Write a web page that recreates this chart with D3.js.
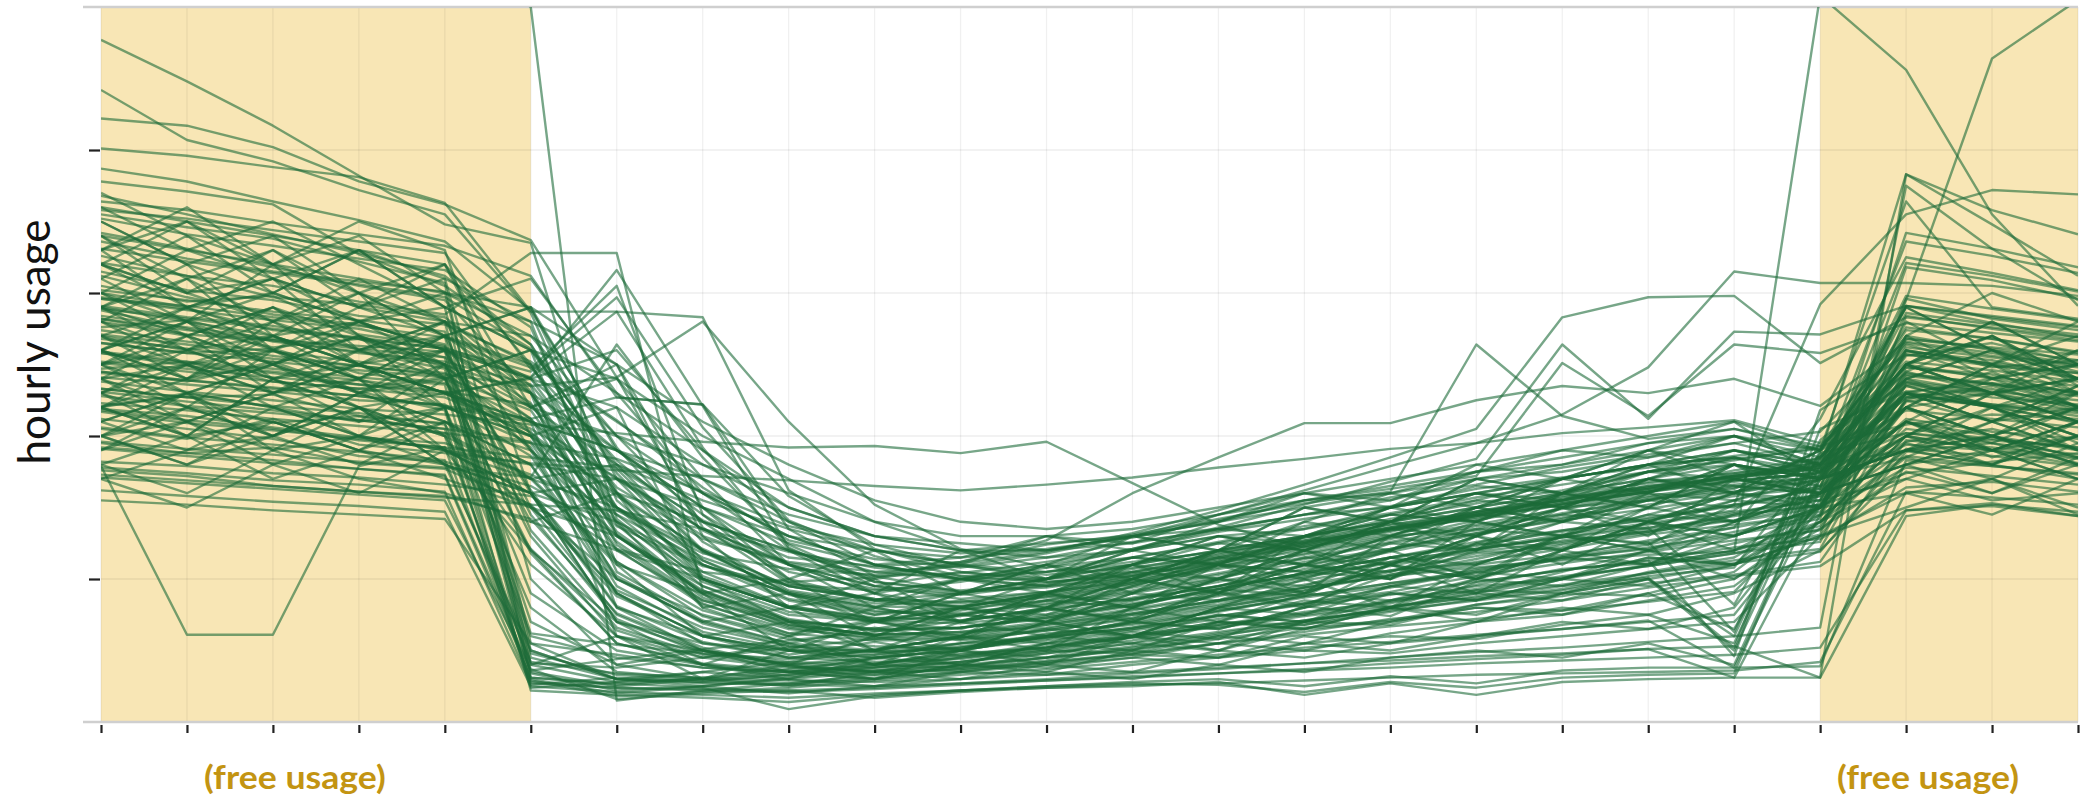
<!DOCTYPE html>
<html>
<head>
<meta charset="utf-8">
<script src="https://cdn.jsdelivr.net/npm/d3@7"></script>
<style>
  html, body { margin: 0; padding: 0; background: #ffffff; }
  svg { display: block; }
</style>
</head>
<body>
<svg id="chart" width="2080" height="801"></svg>
<script>
// Hours of the day (x categories) and y tick values (no labels drawn)
const hours = [0,1,2,3,4,5,6,7,8,9,10,11,12,13,14,15,16,17,18,19,20,21,22,23];
const yTicks = [1, 2, 3, 4];
const freeSpans = [[0, 5], [20, 23]];
const freeLabel = "(free usage)";
const yLabel = "hourly usage";

// Households whose night usage drops sharply right when free hours end
const dropAtDawn = [
  [2.45,2.38,2.52,2.31,2.18,0.26,0.31,0.28,0.33,0.41,0.47,0.52,0.61,0.66,0.74,0.81,0.87,0.95,1.01,0.52,2.05,2.31,2.22,2.14],
  [3.12,2.97,2.85,2.78,2.64,0.34,0.22,0.25,0.31,0.36,0.42,0.48,0.55,0.63,0.71,0.78,0.85,0.92,1.02,1.08,1.85,2.64,2.48,2.53],
  [2.76,2.81,2.66,2.59,2.47,0.41,0.38,0.45,0.52,0.58,0.66,0.74,0.83,0.91,1.02,1.11,1.19,1.26,1.33,1.41,1.52,2.37,2.29,2.41],
  [2.18,2.11,2.05,1.97,1.92,0.29,0.18,0.21,0.24,0.29,0.33,0.37,0.42,0.47,0.52,0.56,0.61,0.65,0.71,0.38,1.62,1.96,2.05,1.91],
  [3.36,3.24,3.15,3.08,3.01,0.55,0.47,0.38,0.35,0.39,0.46,0.55,0.64,0.72,0.83,0.94,1.05,1.16,1.27,1.36,2.12,3.25,3.14,3.02],
  [2.59,2.52,2.47,2.41,2.36,0.22,0.19,0.17,0.14,0.19,0.22,0.25,0.27,0.26,0.21,0.28,0.24,0.31,0.33,0.34,1.74,2.27,2.35,2.18],
  [1.92,1.88,1.83,1.77,1.73,0.36,0.44,0.51,0.57,0.63,0.71,0.79,0.86,0.95,1.03,1.12,1.21,1.29,1.36,0.82,1.88,2.02,1.95,1.87],
  [2.97,2.89,2.74,2.68,2.55,0.48,0.33,0.29,0.33,0.38,0.45,0.53,0.59,0.68,0.77,0.84,0.92,1.01,1.09,1.18,1.31,2.84,2.75,2.67],
  [2.33,2.27,2.29,2.14,2.09,0.24,0.28,0.35,0.42,0.51,0.59,0.68,0.76,0.85,0.94,1.02,1.10,1.17,1.26,0.63,1.97,2.44,2.36,2.28],
  [3.55,3.46,3.38,3.22,3.07,0.31,0.26,0.31,0.37,0.44,0.52,0.61,0.69,0.78,0.88,0.97,1.06,1.14,1.22,1.31,1.42,3.18,3.09,2.96],
  [2.68,2.61,2.54,2.49,2.42,0.62,0.54,0.48,0.44,0.47,0.53,0.59,0.66,0.74,0.82,0.89,0.98,1.06,1.13,0.46,2.18,2.57,2.49,2.44],
  [1.78,1.74,1.69,1.66,1.61,0.27,0.24,0.22,0.21,0.23,0.26,0.29,0.31,0.34,0.37,0.41,0.44,0.47,0.51,0.31,1.45,1.78,1.72,1.66]
];

// Households tapering off over the early morning
const gradualDecline = [
  [3.42,3.31,3.18,3.05,2.95,2.31,1.24,0.83,0.62,0.71,0.58,0.79,0.72,0.93,0.88,1.15,1.02,1.31,1.24,1.52,1.63,2.38,2.21,2.09],
  [2.65,2.58,2.61,2.44,2.37,1.92,0.95,0.63,0.51,0.47,0.55,0.58,0.71,0.84,0.92,1.05,1.18,1.22,1.36,1.41,1.58,2.12,2.03,1.98],
  [2.21,2.28,2.09,2.14,2.02,1.71,1.12,0.74,0.58,0.53,0.51,0.62,0.68,0.77,0.88,0.97,1.04,1.15,1.21,1.33,1.44,1.86,1.79,1.73],
  [3.05,2.94,2.98,2.71,2.63,1.45,0.72,0.48,0.41,0.38,0.42,0.49,0.57,0.68,0.75,0.83,0.96,1.07,1.11,1.25,1.37,2.48,2.43,2.29],
  [2.88,2.75,2.62,2.68,2.48,2.12,1.45,0.98,0.77,0.71,0.69,0.75,0.86,0.95,1.07,1.19,1.31,1.42,1.56,1.61,1.72,2.31,2.37,2.21],
  [1.95,1.88,1.92,1.81,1.77,1.52,0.88,0.61,0.47,0.56,0.46,0.52,0.63,0.58,0.81,0.74,0.98,1.06,1.13,1.22,1.28,1.64,1.68,1.61],
  [3.68,3.55,3.41,3.28,3.12,2.64,1.61,1.02,0.81,0.72,0.74,0.85,0.97,1.08,1.22,1.33,1.47,1.55,1.68,1.74,1.82,2.74,2.68,2.58],
  [2.47,2.52,2.38,2.33,2.41,1.18,0.55,0.41,0.36,0.33,0.38,0.45,0.51,0.58,0.66,0.71,0.82,0.88,0.97,1.03,1.12,1.97,1.92,1.85],
  [2.12,2.05,1.98,1.86,1.82,1.65,1.31,0.92,0.68,0.61,0.63,0.66,0.75,0.82,0.94,1.06,1.11,1.24,1.32,1.45,1.51,1.74,1.82,1.88],
  [3.21,3.12,2.97,2.92,2.83,2.35,1.05,0.71,0.55,0.66,0.57,0.64,0.73,0.91,0.82,1.03,1.14,1.27,1.33,1.46,1.55,2.59,2.53,2.40],
  [2.74,2.66,2.59,2.52,2.44,2.02,1.58,1.21,0.95,0.86,0.84,0.91,0.98,1.12,1.25,1.36,1.44,1.57,1.63,1.72,1.81,2.18,2.12,2.06],
  [1.76,1.72,1.65,1.61,1.58,1.42,0.76,0.52,0.39,0.35,0.36,0.41,0.47,0.55,0.63,0.72,0.77,0.85,0.94,1.02,1.09,1.48,1.51,1.44],
  [2.96,2.91,2.83,2.77,2.69,2.48,1.83,1.34,1.05,0.93,0.89,0.96,1.07,1.18,1.29,1.42,1.53,1.62,1.75,1.83,1.92,2.48,2.41,2.35],
  [2.33,2.27,2.21,2.16,2.08,1.21,0.64,0.45,0.38,0.35,0.37,0.43,0.52,0.61,0.68,0.77,0.86,0.93,1.04,1.11,1.19,1.89,1.95,1.81],
  [3.87,3.78,3.64,3.51,3.36,2.88,1.92,1.26,0.92,0.83,0.81,0.88,0.97,1.09,1.17,1.28,1.41,1.52,1.61,1.73,1.79,2.91,2.79,2.69],
  [2.58,2.49,2.44,2.36,2.31,2.05,1.71,1.35,1.11,1.02,1.04,1.12,1.21,1.33,1.42,1.51,1.63,1.71,1.78,1.86,1.93,2.08,2.15,2.12],
  [3.15,3.02,2.95,2.84,2.78,2.52,2.11,1.64,1.27,1.14,1.08,1.15,1.26,1.34,1.45,1.57,1.66,1.78,1.87,1.95,2.03,2.65,2.56,2.50],
  [2.41,2.36,2.31,2.25,2.22,1.86,1.02,0.69,0.53,0.49,0.52,0.59,0.66,0.78,0.87,0.95,1.07,1.15,1.24,1.36,1.47,2.24,2.30,2.17],
  [2.82,2.71,2.67,2.63,2.59,1.62,0.81,0.56,0.45,0.42,0.44,0.51,0.59,0.67,0.76,0.85,0.93,1.02,1.09,1.18,1.26,2.36,2.27,2.22],
  [3.52,3.41,3.33,3.24,3.16,2.76,1.38,0.89,0.68,0.61,0.62,0.69,0.78,0.88,0.99,1.09,1.21,1.29,1.38,1.47,1.55,2.68,2.61,2.53],
  [2.19,2.14,2.06,1.99,1.95,1.73,1.45,1.13,0.89,0.78,0.75,0.82,0.91,1.01,1.12,1.21,1.32,1.41,1.49,1.58,1.64,1.94,1.90,1.84],
  [3.31,3.22,3.14,3.06,2.97,2.61,1.77,1.19,0.91,0.81,0.79,0.85,0.94,1.04,1.15,1.26,1.37,1.45,1.57,1.64,1.72,2.56,2.65,2.51],
  [2.91,2.83,2.77,2.68,2.61,2.23,1.31,0.87,0.66,0.58,0.59,0.65,0.75,0.85,0.96,1.06,1.16,1.25,1.34,1.44,1.52,2.42,2.36,2.30],
  [3.02,2.95,2.87,2.81,2.73,1.34,0.66,0.47,0.39,0.36,0.39,0.45,0.53,0.62,0.71,0.79,0.88,0.96,1.04,1.13,1.21,2.27,2.33,2.21]
];

// Households with restless, uneven hour-to-hour usage
const restless = [
  [2.9,3.2,2.7,3.0,2.4,2.6,1.1,0.9,0.5,0.7,0.6,0.9,0.8,1.1,0.9,1.3,1.2,1.5,1.3,1.7,1.6,2.2,2.5,2.3],
  [2.3,2.0,2.4,2.1,2.5,1.4,1.6,0.8,0.9,0.6,0.8,0.7,1.0,0.9,1.2,1.0,1.4,1.3,1.6,1.4,1.7,1.9,1.8,2.1],
  [3.3,2.9,3.1,2.6,2.8,2.2,2.5,1.3,0.8,1.0,0.7,0.8,1.1,0.9,1.3,1.4,1.2,1.6,1.5,1.8,1.5,2.7,2.4,2.5],
  [2.6,2.8,2.5,2.2,2.0,0.4,0.6,0.3,0.5,0.4,0.6,0.5,0.8,0.7,0.9,1.1,0.9,1.2,1.1,1.4,1.6,1.8,2.0,1.8],
  [1.9,2.2,2.0,2.3,2.1,1.8,1.0,0.7,0.8,0.5,0.6,0.8,0.7,0.9,1.1,1.0,1.3,1.1,1.4,1.2,1.5,2.3,2.1,2.3],
  [3.0,2.7,2.9,2.5,2.7,2.9,1.9,1.5,1.1,0.9,1.2,1.0,1.3,1.2,1.5,1.4,1.7,1.6,1.9,1.7,1.8,2.5,2.8,2.5],
  [2.2,2.5,2.3,2.6,2.4,0.9,0.5,0.4,0.6,0.4,0.5,0.7,0.6,0.8,1.0,0.8,1.1,1.3,1.2,1.0,1.4,1.7,1.9,1.7],
  [3.5,3.2,3.4,3.0,3.2,2.5,1.5,1.1,0.9,0.7,0.9,0.8,1.0,1.2,1.1,1.4,1.3,1.6,1.5,1.8,1.7,2.6,2.5,2.8],
  [2.5,2.2,2.6,2.4,1.9,1.2,0.7,0.5,0.4,0.6,0.5,0.7,0.6,0.8,0.9,1.1,1.0,1.2,1.4,1.3,1.6,2.1,1.9,2.0],
  [2.0,1.8,2.1,1.9,2.2,2.0,1.5,1.2,0.9,0.8,0.7,0.9,1.0,1.2,1.1,1.3,1.5,1.4,1.7,1.6,1.8,1.9,2.1,1.9],
  [3.1,3.4,3.0,3.3,2.9,0.5,0.3,0.35,0.3,0.45,0.4,0.55,0.5,0.7,0.65,0.8,0.9,0.85,1.0,0.6,1.9,2.4,2.6,2.3],
  [2.7,2.4,2.8,2.5,2.3,2.0,2.2,1.0,0.7,0.6,0.8,0.7,0.9,1.1,1.0,1.2,1.4,1.3,1.5,1.7,1.6,2.2,2.0,2.2],
  [2.4,2.7,2.5,2.8,2.6,1.6,0.8,0.6,0.5,0.5,0.7,0.6,0.8,1.0,0.9,1.1,1.3,1.2,1.5,1.4,1.7,2.3,2.2,1.9],
  [2.1,2.3,1.9,2.2,1.8,1.5,1.3,0.9,1.0,0.7,0.9,1.0,1.2,1.1,1.4,1.6,1.5,1.7,1.9,1.8,1.6,2.0,1.8,1.7],
  [3.4,3.0,3.3,2.9,3.1,1.0,0.4,0.3,0.4,0.3,0.5,0.4,0.6,0.5,0.7,0.8,0.7,0.9,1.0,0.5,1.8,2.5,2.7,2.4],
  [2.8,3.1,2.6,2.9,2.7,2.3,1.4,0.8,0.6,0.8,0.7,0.9,0.8,1.0,1.2,1.1,1.3,1.5,1.4,1.6,1.5,2.3,2.4,2.6],
  [1.7,1.9,2.0,1.8,2.1,1.7,1.1,0.6,0.45,0.5,0.4,0.55,0.6,0.75,0.7,0.9,0.85,1.0,1.15,1.1,1.3,1.6,1.7,1.5],
  [3.2,3.5,3.1,2.8,3.0,2.7,2.0,1.4,1.0,1.2,0.9,1.1,1.3,1.2,1.5,1.4,1.7,1.6,1.8,2.0,1.9,2.9,2.6,2.4],
  [2.6,2.3,2.5,2.7,2.2,0.35,0.25,0.3,0.25,0.35,0.3,0.4,0.45,0.4,0.55,0.5,0.6,0.65,0.7,0.75,1.5,1.9,2.2,2.0],
  [2.0,2.3,2.2,2.0,2.4,2.1,1.7,1.3,1.1,0.8,1.0,0.9,1.1,1.3,1.2,1.4,1.6,1.5,1.7,1.6,1.9,2.2,1.9,2.1],
  [2.9,2.6,2.8,3.1,2.8,1.9,0.9,0.6,0.7,0.5,0.6,0.8,0.7,0.9,0.8,1.1,1.0,1.2,1.4,1.3,1.5,2.2,2.5,2.2],
  [2.3,2.1,2.3,2.0,1.8,1.6,0.7,0.4,0.35,0.3,0.4,0.35,0.5,0.45,0.6,0.55,0.7,0.8,0.75,0.9,1.2,1.8,1.6,1.8],
  [3.6,3.3,3.5,3.2,2.9,3.1,2.3,1.6,1.2,0.9,1.0,1.1,0.9,1.2,1.3,1.5,1.4,1.7,1.8,1.6,1.9,2.7,3.0,2.8],
  [2.5,2.8,2.4,2.6,2.5,1.3,0.6,0.45,0.55,0.4,0.5,0.6,0.55,0.7,0.85,0.8,1.0,0.95,1.1,1.2,1.4,2.0,2.3,2.1],
  [1.8,1.6,1.9,1.7,1.6,1.4,1.2,1.0,0.8,0.9,0.7,0.8,1.0,0.9,1.1,1.2,1.0,1.3,1.2,1.4,1.5,1.6,1.45,1.7],
  [3.0,2.8,3.2,2.7,2.5,0.7,0.4,0.5,0.35,0.45,0.5,0.6,0.7,0.65,0.8,0.95,0.9,1.05,1.2,1.1,1.6,2.5,2.3,2.4],
  [2.7,2.9,2.6,2.4,2.7,2.4,1.6,1.2,0.9,0.8,0.9,1.1,1.0,1.2,1.4,1.3,1.5,1.4,1.6,1.8,1.7,2.1,2.4,2.2],
  [2.2,2.0,2.4,2.2,2.0,1.1,0.6,0.5,0.4,0.45,0.5,0.45,0.6,0.7,0.65,0.8,0.9,1.0,0.95,1.1,1.3,2.1,1.9,1.8],
  [3.3,3.6,3.2,3.4,3.0,2.8,1.3,0.9,0.7,0.6,0.75,0.7,0.85,0.95,1.1,1.0,1.25,1.2,1.4,1.55,1.5,2.4,2.6,2.4],
  [2.4,2.2,2.0,2.3,2.1,1.9,1.4,1.0,0.8,0.7,0.8,0.9,1.1,1.0,1.3,1.2,1.5,1.7,1.6,1.8,1.7,1.9,2.0,2.2],
  [2.8,2.5,2.7,2.4,2.6,0.3,0.2,0.25,0.2,0.25,0.3,0.35,0.3,0.4,0.35,0.45,0.5,0.45,0.55,0.4,1.7,2.0,1.9,2.1],
  [1.9,2.1,1.8,2.0,1.9,1.6,0.9,0.55,0.5,0.45,0.5,0.6,0.65,0.75,0.7,0.85,0.95,1.0,1.1,1.2,1.35,1.75,1.6,1.85],
  [3.1,2.8,3.0,2.8,2.5,2.2,2.4,1.7,1.1,0.9,0.8,1.0,1.1,1.3,1.2,1.4,1.6,1.5,1.7,1.9,1.8,2.5,2.3,2.5],
  [2.6,2.4,2.7,2.5,2.8,2.3,0.8,0.5,0.4,0.35,0.45,0.5,0.6,0.55,0.7,0.8,0.75,0.9,1.0,1.1,1.45,2.2,2.0,2.3],
  [2.1,1.9,2.2,2.4,2.0,1.7,1.8,1.4,1.2,1.0,1.1,1.3,1.2,1.4,1.6,1.5,1.8,1.7,1.9,2.1,1.7,1.9,1.8,2.0],
  [3.7,3.4,3.2,3.5,3.3,1.6,0.7,0.55,0.45,0.5,0.55,0.65,0.6,0.8,0.9,0.85,1.0,1.15,1.1,1.3,1.5,2.6,2.4,2.5],
  [2.3,2.6,2.4,2.2,2.3,2.0,1.2,0.85,0.7,0.65,0.75,0.7,0.9,1.0,0.95,1.15,1.1,1.3,1.45,1.4,1.6,2.1,1.95,2.2],
  [2.9,3.1,2.8,2.6,2.8,0.45,0.3,0.25,0.3,0.25,0.35,0.4,0.35,0.5,0.45,0.55,0.6,0.7,0.65,0.8,1.55,2.3,2.2,2.4],
  [2.0,2.2,2.1,1.9,1.7,1.5,1.0,0.75,0.6,0.7,0.65,0.8,0.9,0.85,1.05,1.0,1.2,1.3,1.25,1.45,1.6,1.8,1.9,1.7],
  [3.2,2.9,3.1,3.3,2.9,2.6,1.8,1.2,0.95,0.85,0.9,1.0,1.15,1.1,1.3,1.45,1.4,1.6,1.75,1.7,1.85,2.5,2.7,2.4],
  [2.5,2.7,2.3,2.5,2.2,0.8,0.35,0.3,0.35,0.3,0.4,0.45,0.5,0.6,0.55,0.7,0.8,0.75,0.9,0.65,1.7,1.85,2.1,1.9],
  [2.7,2.5,2.6,2.8,2.6,2.4,2.6,1.9,1.4,1.1,1.0,1.1,1.2,1.35,1.3,1.5,1.65,1.6,1.8,1.9,1.75,2.3,2.1,2.35],
  [1.8,2.0,1.7,1.9,1.8,0.5,0.3,0.28,0.26,0.3,0.35,0.33,0.4,0.45,0.5,0.48,0.55,0.6,0.65,0.7,1.3,1.5,1.7,1.45],
  [3.4,3.1,3.3,3.0,2.7,2.9,1.7,1.1,0.85,0.75,0.8,0.9,1.0,1.15,1.1,1.3,1.45,1.4,1.55,1.7,1.65,2.8,2.5,2.7],
  [2.2,2.4,2.6,2.3,2.5,1.9,1.3,0.95,0.75,0.7,0.8,0.75,0.95,1.1,1.05,1.25,1.2,1.4,1.55,1.5,1.65,2.0,2.2,1.95],
  [2.9,2.7,2.5,2.7,2.4,1.2,0.55,0.4,0.32,0.38,0.42,0.5,0.48,0.6,0.7,0.68,0.82,0.9,0.88,1.0,1.35,2.25,2.45,2.2],
  [2.4,2.1,2.3,2.5,2.3,2.1,1.9,1.5,1.25,1.1,1.15,1.3,1.25,1.45,1.6,1.55,1.75,1.9,1.85,2.0,1.8,2.2,2.0,1.85],
  [3.0,3.3,3.1,2.9,3.2,2.0,1.0,0.7,0.55,0.5,0.6,0.55,0.7,0.8,0.75,0.95,1.05,1.0,1.2,1.3,1.5,2.45,2.3,2.6],
  [1.7,1.5,1.8,1.6,1.9,1.6,1.4,1.1,0.9,0.75,0.85,0.8,0.95,1.1,1.05,1.2,1.35,1.3,1.45,1.6,1.55,1.7,1.55,1.6],
  [2.6,2.9,2.7,2.5,2.3,2.1,0.6,0.4,0.3,0.35,0.4,0.38,0.45,0.55,0.5,0.62,0.7,0.75,0.85,0.95,1.4,2.0,2.3,2.1],
  [2.1,2.3,2.0,2.2,1.9,1.7,1.5,1.15,0.95,0.85,1.0,0.95,1.1,1.25,1.2,1.4,1.55,1.5,1.7,1.85,1.7,2.1,1.85,2.0],
  [3.5,3.2,3.0,3.3,3.1,2.8,2.5,1.5,1.0,0.85,0.8,0.9,1.05,1.0,1.2,1.35,1.3,1.5,1.6,1.55,1.75,2.9,2.6,2.45],
  [2.3,2.5,2.2,2.0,2.2,0.6,0.45,0.38,0.35,0.4,0.38,0.48,0.55,0.5,0.65,0.7,0.8,0.78,0.9,1.05,1.5,1.95,1.8,2.0],
  [2.8,2.6,2.9,2.7,2.5,2.3,1.5,1.0,0.8,0.7,0.75,0.85,0.8,0.95,1.1,1.05,1.25,1.4,1.35,1.55,1.7,2.35,2.2,2.1],
  [2.0,1.8,2.0,2.2,1.8,1.6,1.7,1.35,1.1,0.95,0.9,1.0,1.15,1.1,1.3,1.45,1.4,1.6,1.7,1.65,1.6,1.8,2.0,1.85],
  [3.2,3.0,2.8,3.0,2.7,0.4,0.28,0.3,0.27,0.33,0.37,0.42,0.47,0.45,0.55,0.6,0.58,0.68,0.75,0.55,1.85,2.45,2.7,2.35],
  [2.5,2.3,2.5,2.3,2.6,2.4,1.9,1.45,1.1,0.95,1.05,1.0,1.2,1.3,1.25,1.5,1.6,1.55,1.75,1.9,1.8,2.35,2.2,2.0],
  [2.2,2.0,2.1,1.9,2.1,1.8,0.9,0.6,0.5,0.45,0.55,0.6,0.7,0.65,0.8,0.9,0.85,1.0,1.15,1.1,1.4,1.85,1.7,1.95],
  [3.3,3.5,3.2,3.0,2.8,2.5,1.6,1.0,0.8,0.72,0.78,0.88,0.85,1.0,1.15,1.1,1.3,1.45,1.4,1.6,1.7,2.5,2.8,2.5],
  [2.6,2.8,2.6,2.4,2.7,1.5,0.75,0.5,0.42,0.4,0.48,0.52,0.6,0.7,0.68,0.8,0.92,0.9,1.05,1.15,1.5,2.25,2.1,2.35]
];

// Households whose usage fades slowly through the morning
const slowFade = [
  [2.8,2.7,2.9,2.6,2.7,2.5,2.1,1.7,1.4,1.2,1.1,1.0,1.1,1.2,1.3,1.4,1.5,1.6,1.7,1.8,1.7,2.3,2.1,2.2],
  [3.2,3.0,3.1,2.9,2.8,2.7,2.3,1.9,1.5,1.3,1.2,1.25,1.3,1.4,1.55,1.6,1.75,1.8,1.95,2.0,1.8,2.5,2.4,2.3],
  [2.4,2.5,2.3,2.4,2.2,2.1,1.9,1.6,1.3,1.1,1.0,0.95,1.0,1.1,1.2,1.3,1.35,1.5,1.55,1.65,1.6,2.1,2.0,1.9],
  [2.6,2.4,2.5,2.3,2.4,2.6,2.4,2.0,1.7,1.4,1.2,1.15,1.2,1.3,1.35,1.5,1.6,1.7,1.8,1.85,1.75,2.2,2.3,2.1],
  [3.4,3.3,3.2,3.1,3.0,2.9,2.5,2.1,1.8,1.55,1.4,1.35,1.4,1.5,1.6,1.7,1.8,1.9,2.0,2.1,1.9,2.6,2.5,2.4],
  [2.0,2.1,1.9,2.0,1.9,1.8,1.7,1.5,1.3,1.2,1.15,1.2,1.3,1.35,1.45,1.5,1.6,1.7,1.8,1.85,1.7,1.9,2.0,1.8],
  [2.9,2.8,2.7,2.8,2.6,2.2,1.8,1.55,1.35,1.2,1.1,1.05,1.1,1.2,1.3,1.4,1.5,1.6,1.75,1.8,1.65,2.4,2.2,2.3],
  [2.5,2.6,2.4,2.5,2.3,2.4,2.2,1.8,1.5,1.3,1.25,1.2,1.25,1.35,1.45,1.55,1.7,1.75,1.85,1.95,1.8,2.3,2.2,2.0],
  [3.0,2.9,3.0,2.8,2.9,2.6,2.0,1.6,1.3,1.1,1.0,1.05,1.15,1.25,1.35,1.45,1.55,1.7,1.8,1.9,1.75,2.5,2.3,2.4],
  [2.2,2.3,2.2,2.1,2.2,2.0,1.6,1.4,1.2,1.05,1.0,1.0,1.05,1.15,1.25,1.35,1.45,1.55,1.65,1.7,1.6,2.0,1.9,2.1],
  [3.6,3.5,3.4,3.3,3.2,2.2,2.0,1.8,1.6,1.4,1.3,1.3,1.35,1.45,1.55,1.65,1.75,1.85,1.95,2.05,1.9,2.7,2.6,2.5],
  [2.7,2.6,2.7,2.5,2.6,2.3,1.9,1.7,1.45,1.3,1.2,1.2,1.3,1.4,1.5,1.6,1.7,1.8,1.9,2.0,1.85,2.4,2.3,2.2]
];

// Households with steady or rising daytime consumption
const steadyDaytime = [
  [2.05,1.98,2.12,1.94,1.88,1.81,1.76,1.72,1.69,1.65,1.62,1.66,1.71,1.78,1.84,1.91,1.95,2.02,2.06,2.11,1.95,2.38,2.31,2.25],
  [3.26,3.12,3.05,2.94,2.85,3.28,3.28,0.92,0.71,0.64,0.66,0.72,0.81,0.93,1.04,1.15,1.23,1.34,1.41,1.52,1.58,2.96,2.82,2.74],
  [2.52,2.47,2.41,2.36,2.29,2.41,2.87,2.83,1.62,1.21,1.05,0.98,1.02,1.12,1.24,1.35,1.42,1.53,1.61,1.72,1.79,2.57,2.51,2.44],
  [2.38,2.31,2.25,2.19,2.15,2.08,2.02,1.96,1.92,1.93,1.88,1.96,1.67,1.38,1.22,1.31,1.44,1.52,1.63,1.71,1.78,2.29,2.22,2.18],
  [1.82,1.79,1.74,1.71,1.66,1.58,1.21,1.05,0.98,1.01,1.12,1.27,1.60,1.85,2.09,2.09,2.25,2.35,2.30,2.40,2.21,2.66,2.58,2.49],
  [2.96,2.88,2.81,2.75,2.62,2.41,3.16,2.21,1.22,0.95,0.86,0.91,1.02,1.14,1.26,1.35,1.46,1.58,1.64,1.76,1.84,2.76,2.68,2.59],
  [2.71,2.64,2.56,2.49,2.43,2.35,2.41,2.80,2.10,1.52,1.21,1.08,1.15,1.26,1.37,1.46,1.57,1.66,1.75,1.84,1.91,2.68,2.62,2.57],
  [2.44,2.39,2.33,2.28,2.21,2.12,2.27,2.22,1.58,1.24,1.09,1.03,1.08,1.16,1.27,1.38,1.45,1.54,1.62,1.69,1.74,2.43,2.37,2.31],
  [2.17,2.09,2.04,1.98,1.92,1.85,1.78,1.41,1.15,1.09,1.12,1.24,1.31,1.42,1.53,1.61,2.64,2.14,1.98,2.05,1.93,2.52,2.46,2.38],
  [2.58,2.51,2.45,2.39,2.31,2.22,1.48,1.18,1.07,1.03,1.11,1.19,1.32,1.48,1.66,1.85,2.05,2.83,2.97,2.98,2.51,2.83,2.76,2.69],
  [2.82,2.74,2.67,2.58,2.52,2.36,1.64,1.28,1.12,1.05,1.09,1.18,1.30,1.45,1.62,1.79,1.95,2.15,2.48,3.15,3.07,3.07,3.05,2.98],
  [2.31,2.24,2.18,2.11,2.05,1.96,1.37,1.09,0.96,0.92,0.98,1.08,1.21,1.36,1.52,1.68,1.84,2.64,2.12,2.73,2.71,2.91,2.83,2.76],
  [2.89,2.82,2.75,2.69,2.61,2.45,2.97,2.06,1.41,1.16,1.02,0.98,1.03,1.11,1.23,1.34,1.43,1.52,1.61,1.68,1.75,2.62,2.55,2.48],
  [1.96,1.91,1.87,1.82,1.78,1.71,2.64,1.85,1.24,0.98,0.91,0.95,1.04,1.15,1.26,1.35,1.44,1.53,1.61,1.69,1.74,2.27,2.21,2.16],
  [2.23,2.18,2.12,2.07,2.02,1.95,1.84,1.61,1.37,1.24,1.18,1.21,1.29,1.41,1.55,1.63,1.72,2.51,2.14,2.64,2.58,2.79,2.72,2.66],
  [1.73,1.69,1.65,1.61,1.57,1.52,1.48,1.35,1.19,1.08,1.02,1.05,1.12,1.19,1.27,1.36,1.47,1.56,1.65,1.72,1.77,2.02,1.97,1.92]
];

// Households with very little daytime usage
const lightUsers = [
  [1.62,1.58,1.54,1.51,1.47,0.25,0.21,0.19,0.17,0.20,0.22,0.24,0.26,0.27,0.29,0.31,0.33,0.34,0.35,0.36,0.42,1.61,1.57,1.52],
  [1.91,1.86,1.81,1.77,1.72,0.31,0.27,0.24,0.09,0.18,0.22,0.25,0.28,0.30,0.25,0.32,0.27,0.36,0.38,0.38,0.39,1.83,1.79,1.74],
  [1.71,1.67,1.63,1.59,1.55,0.37,0.16,0.20,0.22,0.17,0.21,0.24,0.25,0.28,0.19,0.27,0.19,0.28,0.30,0.31,0.31,1.44,1.52,1.47],
  [2.06,1.99,1.94,1.89,1.83,0.42,0.34,0.31,0.29,0.28,0.30,0.33,0.35,0.38,0.41,0.43,0.46,0.48,0.51,0.53,0.31,3.83,3.48,3.12],
  [1.55,1.52,1.48,1.45,1.42,0.55,0.30,0.27,0.26,0.25,0.27,0.29,0.32,0.34,0.36,0.38,0.41,0.43,0.45,0.47,0.52,1.48,1.53,1.44],
  [2.28,2.21,2.16,2.11,2.05,0.28,0.24,0.23,0.22,0.24,0.27,0.30,0.34,0.37,0.41,0.45,0.49,0.52,0.56,0.60,0.66,3.75,3.31,2.95]
];

// The heaviest and most irregular households
const extremeUsers = [
  [5.60,5.55,5.50,5.45,5.40,5.00,0.15,0.22,0.27,0.31,0.35,0.42,0.48,0.55,0.61,0.67,0.72,0.78,0.84,0.91,1.52,2.05,1.98,1.92],
  [2.84,2.76,2.68,2.61,2.55,2.12,1.21,0.82,0.65,0.59,0.61,0.68,0.76,0.85,0.94,1.02,1.08,1.13,1.17,1.19,5.08,4.56,3.55,2.91],
  [2.45,2.39,2.34,2.28,2.21,1.95,1.12,0.78,0.62,0.57,0.58,0.64,0.72,0.81,0.92,1.03,1.12,1.21,1.31,1.38,1.45,2.95,4.64,5.05],
  [1.79,0.61,0.61,1.79,1.92,1.51,0.92,0.66,0.53,0.49,0.51,0.57,0.65,0.74,0.83,0.91,1.02,1.11,1.19,1.27,1.34,1.91,1.86,1.79],
  [4.77,4.48,4.17,3.82,3.48,3.35,1.42,0.95,0.72,0.64,0.66,0.73,0.82,0.93,1.04,1.15,1.24,1.33,1.42,1.51,1.63,3.42,3.31,3.18],
  [4.42,4.07,3.92,3.72,3.55,2.86,1.55,1.05,0.81,0.73,0.71,0.78,0.87,0.98,1.09,1.21,1.32,1.43,1.52,1.61,1.69,3.21,3.12,3.01],
  [4.22,4.17,4.02,3.78,3.62,3.37,2.41,1.36,0.97,0.86,0.83,0.89,0.98,1.11,1.23,1.34,1.46,1.55,1.64,1.72,1.78,3.36,3.26,3.14],
  [4.01,3.96,3.88,3.81,3.63,2.87,2.87,1.92,1.21,0.98,0.92,0.97,1.05,1.17,1.29,1.38,1.47,1.59,1.67,1.74,1.81,2.91,2.84,2.77],
  [3.78,3.71,3.62,3.27,3.05,2.64,1.74,1.13,0.86,0.77,0.76,0.83,0.92,1.03,1.14,1.25,1.34,1.46,1.55,1.63,1.90,3.64,2.90,2.82],
  [2.65,2.58,2.52,2.46,2.41,2.18,1.33,0.91,0.71,0.65,0.66,0.73,0.82,0.93,1.04,1.15,1.26,1.34,1.43,1.52,2.92,3.55,3.72,3.69],
  [2.51,2.45,2.38,2.33,2.27,2.03,1.26,0.85,0.67,0.61,0.63,0.70,0.79,0.89,1.01,1.12,1.21,1.31,1.39,1.48,1.86,3.83,3.58,3.41],
  [3.64,3.58,3.49,3.41,3.33,3.12,2.27,2.22,1.35,1.02,0.91,0.94,1.02,1.13,1.24,1.36,1.45,1.55,1.63,1.71,1.77,2.98,2.89,2.81],
  [3.58,3.52,3.44,3.36,3.28,2.47,3.05,1.45,0.98,0.85,0.81,0.87,0.96,1.07,1.18,1.29,1.38,1.49,1.58,1.66,1.71,2.86,2.78,2.71]
];

const households = [].concat(dropAtDawn, gradualDecline, restless, slowFade, steadyDaytime, lightUsers, extremeUsers);

const svg = d3.select("#chart");
const plot = { left: 101, right: 2078, top: 7, bottom: 722 };

const x = d3.scaleLinear().domain([hours[0], hours[hours.length - 1]]).range([plot.left, plot.right]);
const y = d3.scaleLinear().domain([0, 5]).range([plot.bottom, plot.top]);

// Free-usage bands
svg.append("g").selectAll("rect")
  .data(freeSpans)
  .join("rect")
  .attr("x", d => x(d[0]))
  .attr("y", y(5))
  .attr("width", d => x(d[1]) - x(d[0]))
  .attr("height", y(0) - y(5))
  .attr("fill", "#f8e6b5");

// Grid
const grid = svg.append("g");
grid.selectAll("line.v")
  .data(hours)
  .join("line")
  .attr("class", "v")
  .attr("x1", d => x(d)).attr("x2", d => x(d))
  .attr("y1", y(5)).attr("y2", y(0))
  .attr("stroke", "#000").attr("stroke-opacity", 0.06).attr("stroke-width", 1.3);
grid.selectAll("line.h")
  .data(yTicks)
  .join("line")
  .attr("class", "h")
  .attr("x1", plot.left).attr("x2", plot.right)
  .attr("y1", d => y(d)).attr("y2", d => y(d))
  .attr("stroke", "#000").attr("stroke-opacity", 0.07).attr("stroke-width", 1.3);

// Frame lines at top and bottom
svg.append("g").selectAll("line")
  .data([0, 5])
  .join("line")
  .attr("x1", 83).attr("x2", plot.right)
  .attr("y1", d => y(d)).attr("y2", d => y(d))
  .attr("stroke", "#cfcfcf").attr("stroke-width", 2.5);

// Household lines
svg.append("clipPath").attr("id", "plot-clip")
  .append("rect")
  .attr("x", plot.left).attr("y", y(5))
  .attr("width", plot.right - plot.left).attr("height", y(0) - y(5));

const line = d3.line().x((d, i) => x(hours[i])).y(d => y(d));

svg.append("g")
  .attr("clip-path", "url(#plot-clip)")
  .selectAll("path")
  .data(households)
  .join("path")
  .attr("d", line)
  .attr("fill", "none")
  .attr("stroke", "#1d6b38")
  .attr("stroke-opacity", 0.6)
  .attr("stroke-width", 2.4)
  .attr("stroke-linejoin", "round");

// Axes (tick marks only)
const yAxis = svg.append("g")
  .attr("transform", `translate(${plot.left - 1},0)`)
  .call(d3.axisLeft(y).tickValues(yTicks).tickSize(11).tickFormat(""));
const xAxis = svg.append("g")
  .attr("transform", `translate(0,${plot.bottom + 3})`)
  .call(d3.axisBottom(x).tickValues(hours).tickSize(8).tickFormat(""));
[yAxis, xAxis].forEach(a => {
  a.select(".domain").remove();
  a.selectAll(".tick line").attr("stroke", "#222").attr("stroke-width", 2.2);
});

// Y axis title
svg.append("text")
  .attr("transform", "translate(50,342) rotate(-90)")
  .attr("text-anchor", "middle")
  .attr("font-family", "Lato, 'Open Sans', sans-serif")
  .attr("font-size", 44)
  .attr("fill", "#111")
  .attr("textLength", 245)
  .attr("lengthAdjust", "spacingAndGlyphs")
  .text(yLabel);

// Free-usage captions under each band
svg.append("g").selectAll("text")
  .data(freeSpans)
  .join("text")
  .attr("x", d => (x(d[0]) + x(d[1])) / 2 - 21)
  .attr("y", 789)
  .attr("text-anchor", "middle")
  .attr("font-family", "Lato, 'Open Sans', sans-serif")
  .attr("font-weight", "bold")
  .attr("font-size", 32)
  .attr("fill", "#c39412")
  .attr("textLength", 182)
  .attr("lengthAdjust", "spacingAndGlyphs")
  .text(freeLabel);
</script>
</body>
</html>
